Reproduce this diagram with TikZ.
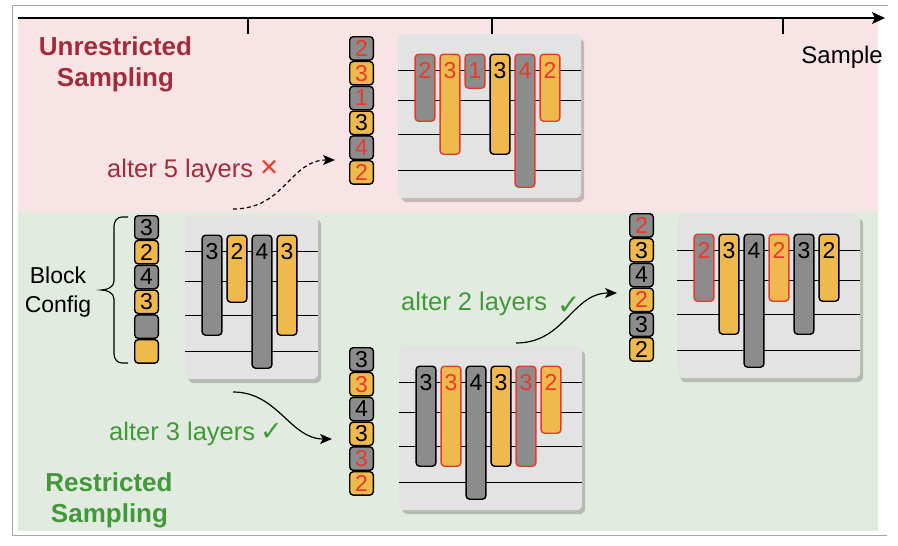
\documentclass[tikz,border=0pt]{standalone}
\usepackage{fontspec}
\setmainfont{Liberation Sans}
\newfontfamily\symfont{DejaVu Sans}
\usetikzlibrary{arrows.meta}
\definecolor{bgpink}{HTML}{F8E4E4}
\definecolor{bggreen}{HTML}{E1EBDF}
\definecolor{cgray}{HTML}{8C8C8C}
\definecolor{corange}{HTML}{F0B94D}
\definecolor{cred}{HTML}{E8392B}
\definecolor{dred}{HTML}{A02C3C}
\definecolor{cgreen}{HTML}{43993A}
\definecolor{panelgray}{HTML}{E3E3E3}
\definecolor{framegray}{HTML}{A6A6A6}

\newcommand{\cfgcol}[4]{%
  \foreach [count=\i] \n/\f/\t in {#4} {%
    \pgfmathsetmacro{\cy}{#3+(\i-1)*24.8}
    \node[cell, fill=\f, text=\t, anchor=north west] (#1-\i) at (#2,\cy) {\n};
  }%
}
\newcommand{\blockpanel}[5]{%
  \node[panel, minimum width=#4pt, minimum height=164pt, anchor=north west] (#1) at (#2,#3) {};
  \foreach \k/\dy in {1/36.5,2/66.5,3/100.5,4/136.5} {%
    \draw[panelline] ([yshift=-\dy pt]#1.north west) -- ([yshift=-\dy pt]#1.north east);
  }%
  \foreach [count=\i] \n/\f/\d in {#5} {%
    \pgfmathsetmacro{\bx}{27+(\i-1)*25}
    \pgfmathsetmacro{\bh}{1+33*\n}
    \node[bar, fill=\f, draw=\d, minimum height=\bh pt, anchor=north] (#1-b\i)
      at ([xshift=\bx pt, yshift=-19.5pt]#1.north west) {};
    \node[digit, text=\d] (#1-d\i) at ([xshift=\bx pt, yshift=-36.5pt]#1.north west) {\n};
  }%
}

\begin{document}
\begin{tikzpicture}[x=1pt, y=-1pt,
  cell/.style={draw=black, line width=1.4pt, rounded corners=3.5pt, minimum width=23.6pt,
    minimum height=23.4pt, inner sep=0pt, font=\fontsize{23}{23}\selectfont},
  bar/.style={line width=1.4pt, rounded corners=3.5pt, minimum width=19.8pt, inner sep=0pt},
  digit/.style={font=\fontsize{23}{23}\selectfont, inner sep=0pt},
  panel/.style={fill=panelgray, rounded corners=6pt, inner sep=0pt,
    preaction={fill=black, opacity=0.2, transform canvas={xshift=3pt, yshift=-4pt}}},
  panelline/.style={line width=1.2pt, black},
  title/.style={font=\bfseries\fontsize{26}{31}\selectfont, inner sep=0pt, anchor=base},
  lbl/.style={font=\fontsize{25.5}{30}\selectfont, inner sep=0pt, anchor=base west},
  conn/.style={line width=1.2pt, black, -{Stealth[length=12pt, width=10pt, inset=3pt]}},
  tick/.style={line width=1.2pt, black}
]
\useasboundingbox (0,0) rectangle (898,546);

% background regions
\fill[bgpink] (18,18) rectangle (878,212);
\fill[bggreen] (18,212) rectangle (878,531);

% frame
\draw[framegray, line width=0.9pt] (888,5.7) -- (12.7,5.7) -- (12.7,535) -- (887,535);

% axis
\coordinate (ax0) at (18,18);
\coordinate (ax1) at (885,18);
\draw[line width=1.2pt, -{Stealth[length=13pt, width=12pt, inset=3pt]}] (ax0) -- (ax1);
\draw[tick] (248,18) -- (248,34);
\draw[tick] (492,18) -- (492,34);
\draw[tick] (783,18) -- (783,34);
\node[font=\fontsize{24}{28}\selectfont, inner sep=0pt, anchor=base east] (sample) at (883,63) {Sample};

% titles
\node[title, text=dred] (unr1) at (115.5,55) {Unrestricted};
\node[title, text=dred] (unr2) at (115.5,86) {Sampling};
\node[title, text=cgreen] (res1) at (109,491) {Restricted};
\node[title, text=cgreen] (res2) at (109.5,522) {Sampling};

% block config label and brace
\node[font=\fontsize{23}{28}\selectfont, inner sep=0pt, anchor=base] (blk1) at (58,283) {Block};
\node[font=\fontsize{23}{28}\selectfont, inner sep=0pt, anchor=base] (blk2) at (58,312) {Config};
\draw[line width=1.1pt] (128,217) -- (122,217) to[out=180,in=90] (114,226) -- (114,281)
  to[out=-90,in=0] (101,290) to[out=0,in=90] (114,299) -- (114,354)
  to[out=-90,in=180] (122,363) -- (128,363);

% columns
\cfgcol{tc}{349}{36}{2/cgray/cred,3/corange/cred,1/cgray/cred,3/corange/black,4/cgray/cred,2/corange/cred}
\cfgcol{lc}{134}{215}{3/cgray/black,2/corange/black,4/cgray/black,3/corange/black,/cgray/black,/corange/black}
\cfgcol{mc}{349}{347}{3/cgray/black,3/corange/cred,4/cgray/black,3/corange/black,3/cgray/cred,2/corange/cred}
\cfgcol{rc}{629}{213}{2/cgray/cred,3/corange/black,4/cgray/black,2/corange/cred,3/cgray/black,2/corange/black}

% panels
\blockpanel{tp}{398}{34}{183}{2/cgray/cred,3/corange/cred,1/cgray/cred,3/corange/black,4/cgray/cred,2/corange/cred}
\blockpanel{lp}{185}{215}{133}{3/cgray/black,2/corange/black,4/cgray/black,3/corange/black}
\blockpanel{mp}{399}{346}{183}{3/cgray/black,3/corange/cred,4/cgray/black,3/corange/black,3/cgray/cred,2/corange/cred}
\blockpanel{rp}{677}{214}{183}{2/cgray/cred,3/corange/black,4/cgray/black,2/corange/cred,3/cgray/black,2/corange/black}

% labels
\node[lbl, text=dred] (alt5) at (107,177) {alter 5 layers\hspace{7pt}{\fontsize{31}{31}\selectfont\textcolor{cred}{×}}};
\node[lbl, text=cgreen] (alt3) at (109,440) {alter 3 layers\hspace{5pt}{\symfont\fontsize{27}{27}\selectfont ✓}};
\node[lbl, text=cgreen] (alt2) at (401,310) {alter 2 layers\hspace{10pt}\raisebox{-4pt}{\symfont\fontsize{28}{28}\selectfont ✓}};

% connectors
\coordinate (a5s) at (233,209);
\coordinate (a5e) at (335,160);
\draw[conn, dash pattern=on 4pt off 3pt] (a5s) .. controls (285,209) and (290,160) .. (a5e);
\coordinate (a3s) at (233,392);
\coordinate (a3e) at (332,439);
\draw[conn] (a3s) .. controls (278,392) and (290,439) .. (a3e);
\coordinate (a2s) at (516,343);
\coordinate (a2e) at (617,293);
\draw[conn] (a2s) .. controls (565,343) and (572,293) .. (a2e);
\end{tikzpicture}
\end{document}
